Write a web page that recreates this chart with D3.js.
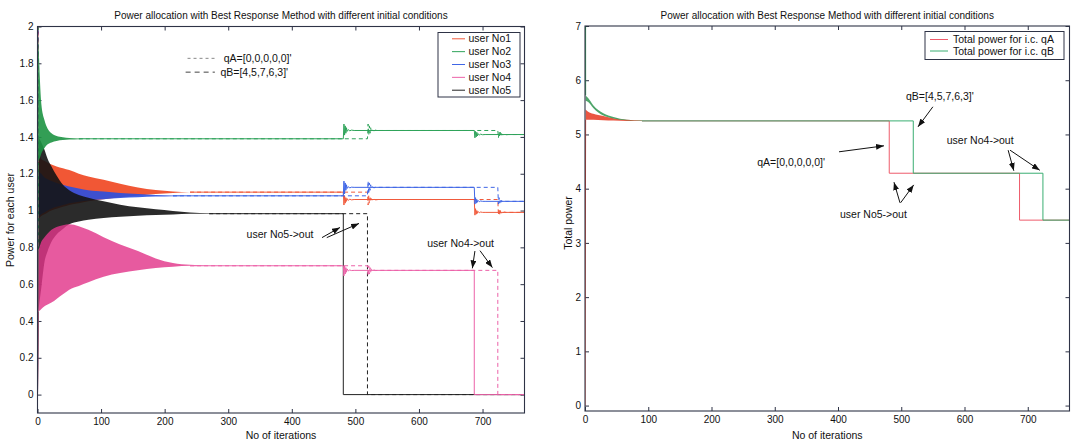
<!DOCTYPE html>
<html>
<head>
<meta charset="utf-8">
<title>Power allocation with Best Response Method</title>
<script src="https://d3js.org/d3.v7.min.js"></script>
<style>
body { margin: 0; background: #fff; }
svg { font-family: "Liberation Sans", Arial, Helvetica, sans-serif; }
.axis path, .axis line { stroke: #2e3346; }
.axis text { font-size: 10px; fill: #111; }
.frame { fill: none; stroke: #2e3346; stroke-width: 1.1; }
.title { font-size: 10px; fill: #111; }
.label { font-size: 10.5px; fill: #111; }
.note { font-size: 10.5px; fill: #111; }
.legend text { font-size: 10.5px; fill: #111; }
.arrow { stroke: #111; stroke-width: 1; fill: none; }
</style>
</head>
<body>
<script>
// ---------- values ----------
var xMax = 766;
var xTicks = [0, 100, 200, 300, 400, 500, 600, 700];
var yTicksUser = [0, 0.2, 0.4, 0.6, 0.8, 1, 1.2, 1.4, 1.6, 1.8, 2];
var yTicksTotal = [0, 1, 2, 3, 4, 5, 6, 7];

var users = ["user No1", "user No2", "user No3", "user No4", "user No5"];
var qA = [0, 0, 0, 0, 0];
var qB = [4, 5, 7, 6, 3];

// iterations where a user drops out (user No5 first, then user No4)
var eventsA = [481, 687];
var eventsB = [519, 724];

// settled power of each user: before, after No5 leaves, after No4 leaves
var level1 = [1.10, 1.39, 1.08, 0.70, 0.983];
var level2 = [1.06, 1.435, 1.126, 0.675, 0];
var level3 = [0.99, 1.413, 1.05, 0, 0];

// envelope of the start-up oscillation (same iteration grid for all users)
var bandIters = [1, 3, 6, 11, 16, 22, 30, 40, 50, 65, 80, 104, 130, 158, 186, 213, 240, 270];
var hiNo1 = [1.31, 1.30, 1.28, 1.27, 1.26, 1.25, 1.24, 1.23, 1.22, 1.20, 1.185, 1.167, 1.145, 1.125, 1.111, 1.103, 1.10, 1.10];
var loNo1 = [0.95, 0.96, 0.97, 0.98, 0.99, 1.00, 1.01, 1.02, 1.03, 1.04, 1.05, 1.062, 1.072, 1.082, 1.09, 1.096, 1.099, 1.10];
var hiNo2 = [1.98, 1.78, 1.58, 1.49, 1.445, 1.42, 1.405, 1.398, 1.394, 1.392, 1.39, 1.39, 1.39, 1.39, 1.39, 1.39, 1.39, 1.39];
var loNo2 = [1.26, 1.28, 1.31, 1.34, 1.36, 1.37, 1.378, 1.383, 1.386, 1.388, 1.39, 1.39, 1.39, 1.39, 1.39, 1.39, 1.39, 1.39];
var hiNo3 = [1.22, 1.21, 1.20, 1.18, 1.17, 1.16, 1.15, 1.14, 1.13, 1.12, 1.11, 1.103, 1.095, 1.09, 1.085, 1.082, 1.08, 1.08];
var loNo3 = [0.96, 0.97, 0.98, 0.99, 1.00, 1.01, 1.02, 1.03, 1.04, 1.048, 1.055, 1.062, 1.068, 1.072, 1.076, 1.078, 1.08, 1.08];
var hiNo4 = [0.78, 0.80, 0.83, 0.855, 0.875, 0.895, 0.91, 0.92, 0.925, 0.915, 0.895, 0.855, 0.815, 0.78, 0.74, 0.715, 0.705, 0.70];
var loNo4 = [0.45, 0.455, 0.465, 0.48, 0.49, 0.50, 0.52, 0.545, 0.57, 0.59, 0.61, 0.64, 0.66, 0.675, 0.688, 0.695, 0.70, 0.70];
var hiNo5 = [1.40, 1.39, 1.37, 1.33, 1.28, 1.24, 1.19, 1.14, 1.11, 1.085, 1.07, 1.05, 1.032, 1.018, 1.007, 0.998, 0.99, 0.985];
var loNo5 = [0.45, 0.50, 0.58, 0.72, 0.78, 0.83, 0.87, 0.90, 0.925, 0.94, 0.95, 0.96, 0.966, 0.972, 0.976, 0.979, 0.982, 0.983];
var bandHi = [hiNo1, hiNo2, hiNo3, hiNo4, hiNo5];
var bandLo = [loNo1, loNo2, loNo3, loNo4, loNo5];

// ringing right after each drop-out
var spikeOffsets = [1, 2, 3, 4, 5, 6, 8, 10, 13, 17];
var spike1No1 = [1.03, 1.08, 1.04, 1.07, 1.05, 1.065, 1.055, 1.062, 1.058, 1.06];
var spike1No2 = [1.47, 1.41, 1.46, 1.42, 1.45, 1.43, 1.44, 1.433, 1.437, 1.435];
var spike1No3 = [1.16, 1.09, 1.15, 1.11, 1.14, 1.12, 1.13, 1.123, 1.127, 1.126];
var spike1No4 = [0.645, 0.70, 0.655, 0.69, 0.665, 0.683, 0.672, 0.677, 0.674, 0.675];
var spike2No1 = [0.975, 1.01, 0.98, 1.0, 0.985, 0.995, 0.988, 0.992, 0.99, 0.99];
var spike2No2 = [1.395, 1.43, 1.40, 1.425, 1.405, 1.418, 1.41, 1.415, 1.412, 1.413];
var spike2No3 = [1.035, 1.07, 1.04, 1.06, 1.045, 1.055, 1.048, 1.052, 1.05, 1.05];
var spike1 = [spike1No1, spike1No2, spike1No3, spike1No4, null];
var spike2 = [spike2No1, spike2No2, spike2No3, null, null];

// total power
var totalInitA = 0, totalInitB = 25;
var totalLevels = [5.25, 4.285, 3.42];
var totalIters = [1, 5, 13, 29, 45, 66, 90];
var totalHiA = [5.46, 5.42, 5.38, 5.34, 5.30, 5.27, 5.255];
var totalLoA = [5.27, 5.27, 5.27, 5.26, 5.255, 5.25, 5.25];
var totalHiB = [5.72, 5.67, 5.54, 5.39, 5.32, 5.27, 5.255];
var totalLoB = [5.62, 5.60, 5.49, 5.35, 5.295, 5.26, 5.25];

// ---------- look ----------
var userColors = ["#f0451f", "#1d9443", "#2a50e0", "#e2368a", "#141414"];
var lineColors = ["#f05a3c", "#2fa35a", "#3f66e6", "#ec62a8", "#222222"];
var totalColors = ["#ee5b6b", "#3aae72"];
var totalBand = ["#e8442e", "#2f9550"];
var drawOrder = [0, 2, 4, 3, 1];

var svg = d3.select("body").append("svg")
    .attr("width", 1073)
    .attr("height", 441);

var defs = svg.append("defs");
defs.append("marker")
    .attr("id", "head")
    .attr("markerUnits", "userSpaceOnUse")
    .attr("markerWidth", 8).attr("markerHeight", 6)
    .attr("refX", 8).attr("refY", 3)
    .attr("orient", "auto")
  .append("path")
    .attr("d", "M0,0 L8,3 L0,6 z")
    .attr("fill", "#111");

function panel(id, box, yDomain, yTicks) {
  var x = d3.scaleLinear().domain([0, xMax]).range([box.left, box.right]);
  var y = d3.scaleLinear().domain(yDomain).range([box.bottom, box.top]);
  var g = svg.append("g").attr("id", id);

  defs.append("clipPath").attr("id", id + "-clip")
    .append("rect")
      .attr("x", box.left).attr("y", box.top)
      .attr("width", box.right - box.left).attr("height", box.bottom - box.top);

  g.append("g").attr("class", "axis")
      .attr("transform", "translate(0," + box.bottom + ")")
      .call(d3.axisBottom(x).tickValues(xTicks).tickSize(-4).tickSizeOuter(0).tickPadding(5));
  g.append("g").attr("class", "axis")
      .attr("transform", "translate(0," + box.top + ")")
      .call(d3.axisTop(x).tickValues(xTicks).tickSize(-4).tickSizeOuter(0).tickFormat(""));
  g.append("g").attr("class", "axis")
      .attr("transform", "translate(" + box.left + ",0)")
      .call(d3.axisLeft(y).tickValues(yTicks).tickSize(-4).tickSizeOuter(0).tickPadding(4)
        .tickFormat(function(d) { return String(d); }));
  g.append("g").attr("class", "axis")
      .attr("transform", "translate(" + box.right + ",0)")
      .call(d3.axisRight(y).tickValues(yTicks).tickSize(-4).tickSizeOuter(0).tickFormat(""));
  g.selectAll(".axis .domain").remove();

  var plot = g.append("g").attr("clip-path", "url(#" + id + "-clip)");

  return {x: x, y: y, g: g, plot: plot, box: box};
}

function band(p, iters, hi, lo, color, opacity) {
  var pts = iters.map(function(t, k) { return [t, hi[k], lo[k]]; });
  p.plot.append("path")
      .attr("d", d3.area()
        .curve(d3.curveMonotoneX)
        .x(function(d) { return p.x(d[0]); })
        .y0(function(d) { return p.y(d[2]); })
        .y1(function(d) { return p.y(d[1]); })(pts))
      .attr("fill", color)
      .attr("fill-opacity", opacity);
}

function trace(p, pts, color, dashed) {
  p.plot.append("path")
      .attr("d", d3.line()
        .x(function(d) { return p.x(d[0]); })
        .y(function(d) { return p.y(d[1]); })(pts))
      .attr("fill", "none")
      .attr("stroke", color)
      .attr("stroke-width", 1)
      .attr("stroke-dasharray", dashed ? "4,3" : null);
}

// first iteration of the grid where the oscillation has died out
function settledAt(hi, lo, iters) {
  for (var k = 0; k < hi.length; k++) {
    if (hi[k] - lo[k] <= 0.006) return iters[k];
  }
  return iters[iters.length - 1];
}

function userTrace(u, events) {
  var t0 = settledAt(bandHi[u], bandLo[u], bandIters);
  var pts = [[t0, level1[u]], [events[0], level1[u]]];
  if (level2[u] === 0) {
    pts.push([events[0], 0], [xMax, 0]);
    return pts;
  }
  spike1[u].forEach(function(v, k) { pts.push([events[0] + spikeOffsets[k], v]); });
  pts.push([events[1], level2[u]]);
  if (level3[u] === 0) {
    pts.push([events[1], 0], [xMax, 0]);
    return pts;
  }
  spike2[u].forEach(function(v, k) { pts.push([events[1] + spikeOffsets[k], v]); });
  pts.push([xMax, level3[u]]);
  return pts;
}

function arrow(p, from, to) {
  p.g.append("line")
      .attr("class", "arrow")
      .attr("x1", p.x(from[0])).attr("y1", p.y(from[1]))
      .attr("x2", p.x(to[0])).attr("y2", p.y(to[1]))
      .attr("marker-end", "url(#head)");
}

function note(p, at, text, anchor) {
  p.g.append("text")
      .attr("class", "note")
      .attr("x", p.x(at[0])).attr("y", p.y(at[1]))
      .attr("dy", "0.35em")
      .attr("text-anchor", anchor)
      .text(text);
}

function titles(p, ylabel, ylabelX, ylabelY) {
  var b = p.box, cx = (b.left + b.right) / 2;
  p.g.append("text").attr("class", "title")
      .attr("x", cx).attr("y", 15.5).attr("dy", "0.35em")
      .attr("text-anchor", "middle")
      .text("Power allocation with Best Response Method with different initial conditions");
  p.g.append("text").attr("class", "label")
      .attr("x", cx).attr("y", 435).attr("dy", "0.35em")
      .attr("text-anchor", "middle")
      .text("No of iterations");
  p.g.append("text").attr("class", "label")
      .attr("transform", "translate(" + ylabelX + "," + ylabelY + ") rotate(-90)")
      .attr("dy", "0.35em")
      .attr("text-anchor", "middle")
      .text(ylabel);
}

// ---------- left: power of each user ----------
var L = panel("users", {left: 37.5, right: 524.5, top: 26.5, bottom: 413}, [-0.1, 2], yTicksUser);

drawOrder.forEach(function(u) {
  band(L, bandIters, bandHi[u], bandLo[u], userColors[u], u === 3 ? 0.82 : 0.9);
  trace(L, [[0, qA[u]], [1, bandLo[u][0]]], userColors[u], false);
  trace(L, [[0, qB[u]], [1, bandHi[u][0]]], userColors[u], true);
  trace(L, userTrace(u, eventsA), lineColors[u], false);
  trace(L, userTrace(u, eventsB), lineColors[u], true);
});
L.g.append("rect").attr("class", "frame")
    .attr("x", 37.5).attr("y", 26.5).attr("width", 487).attr("height", 386.5);

// key for the two initial conditions
L.g.append("line")
    .attr("x1", L.x(236)).attr("x2", L.x(279)).attr("y1", L.y(1.827)).attr("y2", L.y(1.827))
    .attr("stroke", "#888").attr("stroke-dasharray", "3,3");
L.g.append("line")
    .attr("x1", L.x(233)).attr("x2", L.x(279)).attr("y1", L.y(1.752)).attr("y2", L.y(1.752))
    .attr("stroke", "#444").attr("stroke-dasharray", "5,4");
note(L, [293, 1.827], "qA=[0,0,0,0,0]'", "start");
note(L, [287.7, 1.752], "qB=[4,5,7,6,3]'", "start");

note(L, [434, 0.869], "user No5->out", "end");
arrow(L, [447.5, 0.853], [475.8, 0.908]);
arrow(L, [455, 0.853], [505.7, 0.93]);
note(L, [718, 0.82], "user No4->out", "end");
arrow(L, [688, 0.78], [684, 0.686]);
arrow(L, [696, 0.782], [715.5, 0.69]);

var legL = L.g.append("g").attr("class", "legend");
legL.append("rect")
    .attr("x", 438).attr("y", 32.5).attr("width", 82).attr("height", 64.5)
    .attr("fill", "#fff").attr("stroke", "#2e3346");
users.forEach(function(name, u) {
  var yy = 38.8 + u * 12.85;
  legL.append("line").attr("x1", 452).attr("x2", 465).attr("y1", yy).attr("y2", yy)
      .attr("stroke", lineColors[u]);
  legL.append("text").attr("x", 468.5).attr("y", yy).attr("dy", "0.35em").text(name);
});

titles(L, "Power for each user", 10, 220);

// ---------- right: total power ----------
var R = panel("total", {left: 585, right: 1069.5, top: 26, bottom: 411}, [-0.1, 7], yTicksTotal);

band(R, totalIters, totalHiA, totalLoA, totalBand[0], 0.9);
band(R, totalIters, totalHiB, totalLoB, totalBand[1], 0.85);
trace(R, [[0, totalInitA], [1, totalLoA[0]]], totalBand[0], false);
trace(R, [[0, totalInitB], [1, totalHiB[0]]], totalBand[1], false);

function totalTrace(events) {
  var t0 = settledAt(totalHiA, totalLoA, totalIters);
  return [[t0, totalLevels[0]], [events[0], totalLevels[0]], [events[0], totalLevels[1]],
          [events[1], totalLevels[1]], [events[1], totalLevels[2]], [xMax, totalLevels[2]]];
}
trace(R, totalTrace(eventsA), totalColors[0], false);
trace(R, totalTrace(eventsB), totalColors[1], false);
R.g.append("rect").attr("class", "frame")
    .attr("x", 585).attr("y", 26).attr("width", 484.5).attr("height", 385);

note(R, [561, 5.71], "qB=[4,5,7,6,3]'", "middle");
arrow(R, [550, 5.51], [526.5, 5.14]);
note(R, [379.4, 4.48], "qA=[0,0,0,0,0]'", "end");
arrow(R, [401.6, 4.68], [472.7, 4.79]);
note(R, [456, 3.52], "user No5->out", "middle");
arrow(R, [498, 3.74], [488.5, 4.12]);
arrow(R, [499, 3.74], [519.7, 4.07]);
note(R, [572, 4.90], "user No4->out", "start");
arrow(R, [669, 4.71], [678, 4.33]);
arrow(R, [672, 4.71], [719, 4.34]);

var legR = R.g.append("g").attr("class", "legend");
legR.append("rect")
    .attr("x", 925).attr("y", 31.5).attr("width", 139).attr("height", 28)
    .attr("fill", "#fff").attr("stroke", "#2e3346");
["Total power for i.c. qA", "Total power for i.c. qB"].forEach(function(name, k) {
  var yy = 39.5 + k * 11.5;
  legR.append("line").attr("x1", 930).attr("x2", 948).attr("y1", yy).attr("y2", yy)
      .attr("stroke", totalColors[k]);
  legR.append("text").attr("x", 953).attr("y", yy).attr("dy", "0.35em").text(name);
});

titles(R, "Total power", 568, 223);
</script>
</body>
</html>
